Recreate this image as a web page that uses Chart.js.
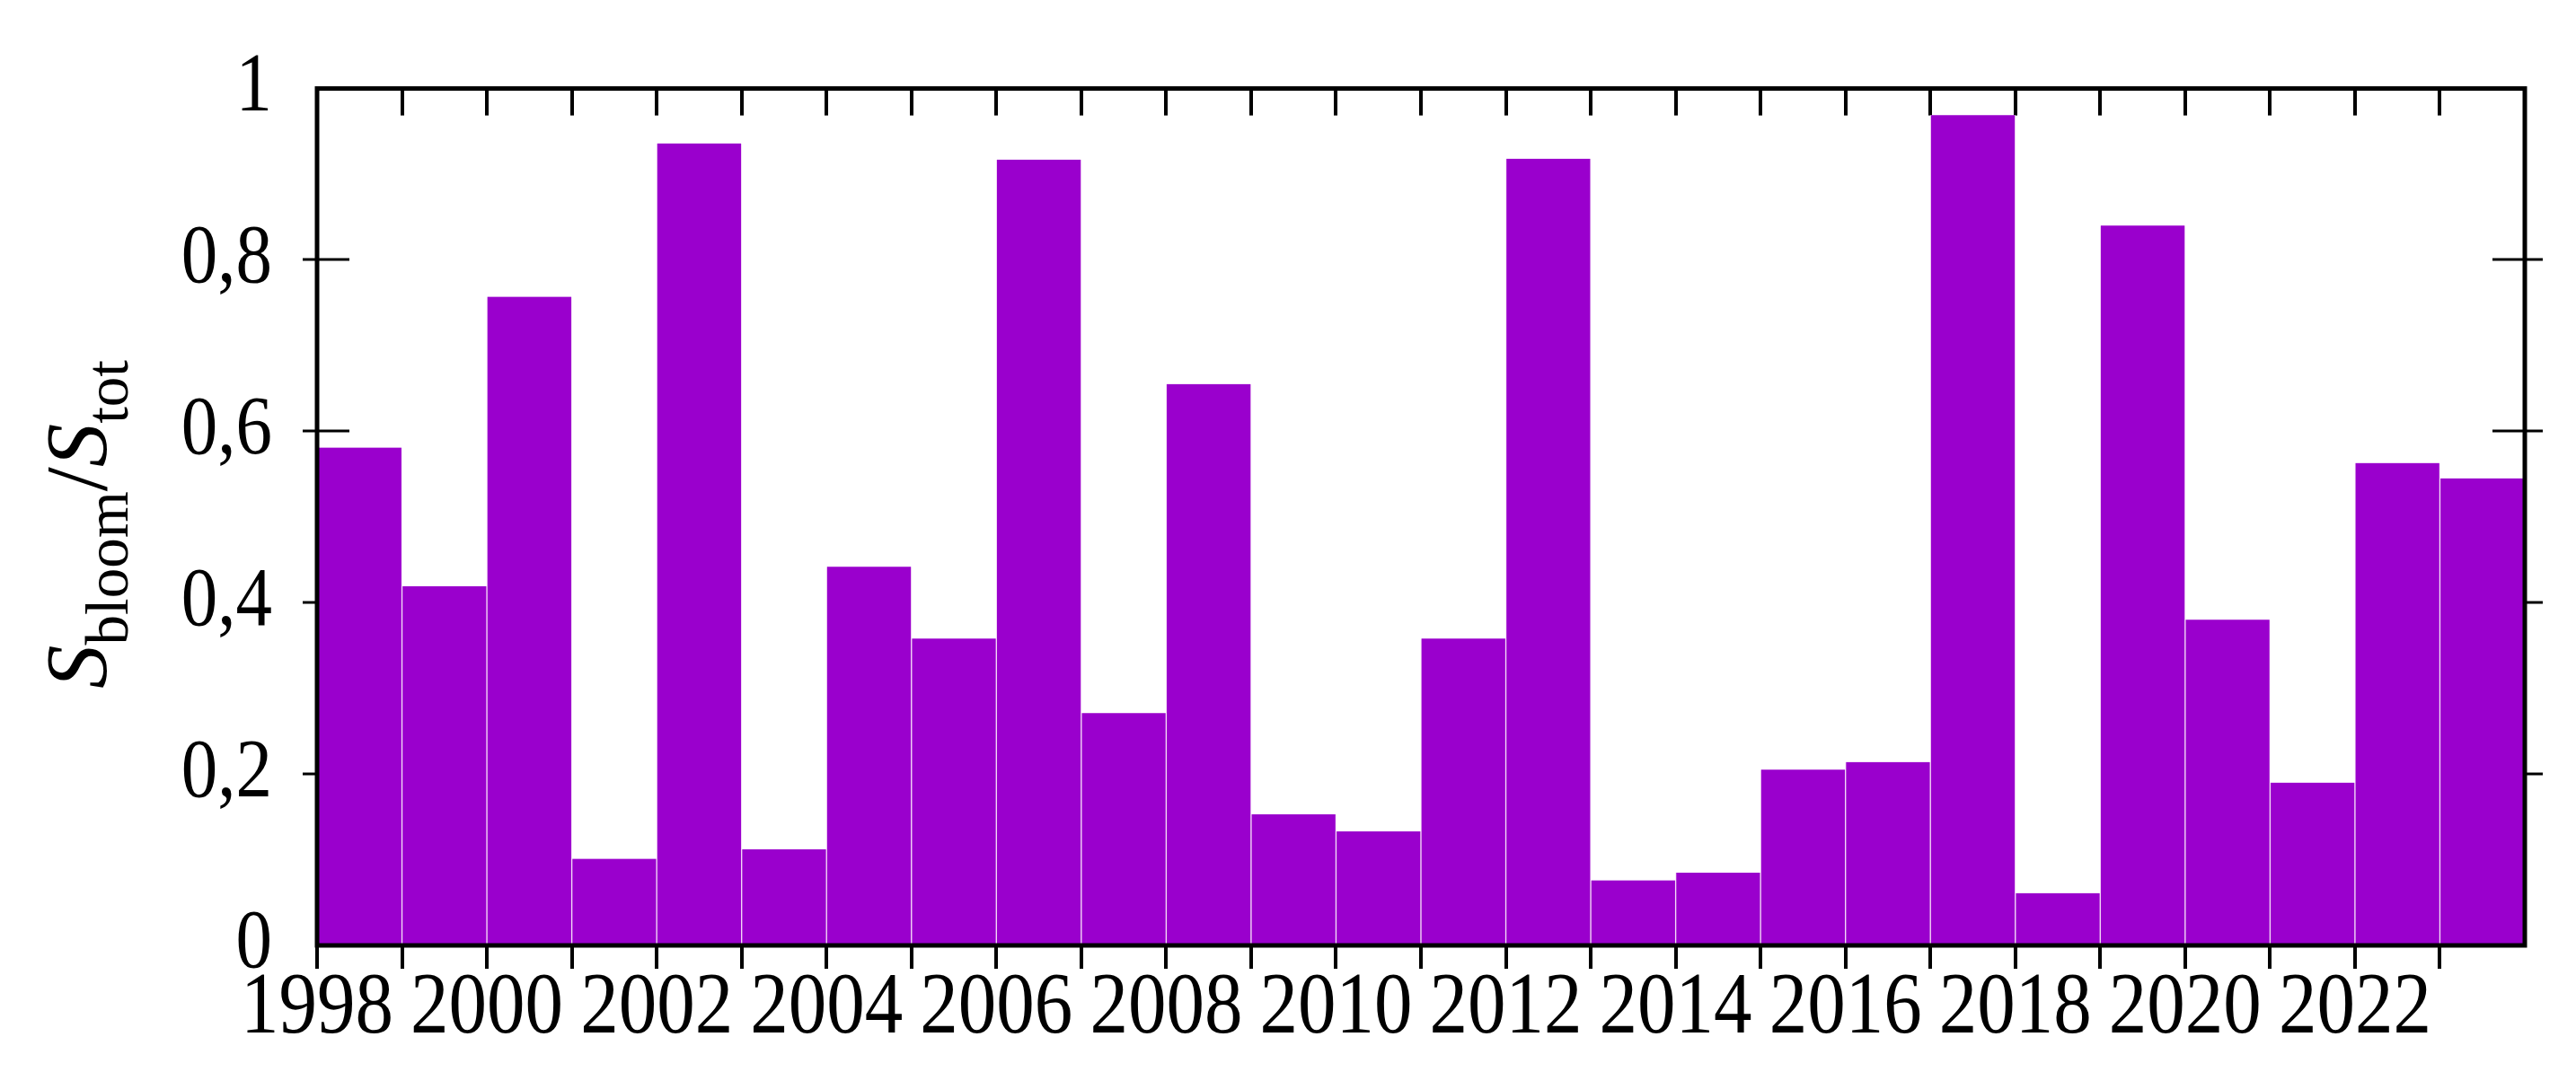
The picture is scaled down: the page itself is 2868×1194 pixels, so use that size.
<!DOCTYPE html>
<html>
<head>
<meta charset="utf-8">
<script src="https://cdn.jsdelivr.net/npm/chart.js@4.4.1/dist/chart.umd.min.js"></script>
<style>
  html, body { margin: 0; padding: 0; background: #ffffff; }
  #wrap { width: 2868px; height: 1194px; }
  canvas { display: block; }
</style>
</head>
<body>
<div id="wrap"><canvas id="c" width="2868" height="1194"></canvas></div>
<script>
// ---- data ----
const years = [1998, 1999, 2000, 2001, 2002, 2003, 2004, 2005, 2006, 2007, 2008, 2009, 2010,
               2011, 2012, 2013, 2014, 2015, 2016, 2017, 2018, 2019, 2020, 2021, 2022, 2023];
const bloomRatio = [0.581, 0.419, 0.757, 0.101, 0.936, 0.112, 0.442, 0.358, 0.917, 0.271, 0.655, 0.153, 0.133,
                    0.358, 0.918, 0.076, 0.085, 0.205, 0.214, 0.969, 0.061, 0.840, 0.380, 0.190, 0.563, 0.545];
const xLabelYears = [1998, 2000, 2002, 2004, 2006, 2008, 2010, 2012, 2014, 2016, 2018, 2020, 2022];
const yTickValues = [0, 0.2, 0.4, 0.6, 0.8, 1];
const yTickLabels = ['0', '0,2', '0,4', '0,6', '0,8', '1'];
const xMin = 1998, xMax = 2024;

const barColor = '#9a00cd';
const SERIF = '"Liberation Serif", "Times New Roman", serif';
const LABEL_STRETCH = 1.15; // tick labels in the reference are slightly tall

// stretch tick label glyphs vertically around their anchor
const labelStretchPlugin = {
  id: 'labelStretch',
  afterLayout(chart) {
    ['x', 'y'].forEach(id => {
      const s = chart.scales[id];
      if (!s || s._stretched) return;
      const orig = s.drawLabels.bind(s);
      s.drawLabels = function (area) {
        const c = this.ctx;
        const fill = c.fillText;
        c.fillText = function (t, x, y, mw) {
          this.save();
          this.scale(1, LABEL_STRETCH);
          if (mw === undefined) fill.call(this, t, x, y / LABEL_STRETCH);
          else fill.call(this, t, x, y / LABEL_STRETCH, mw);
          this.restore();
        };
        try { orig(area); } finally { c.fillText = fill; }
      };
      s._stretched = true;
    });
  }
};

// frame + tick marks (using the chart's own scales)
const framePlugin = {
  id: 'frameTicks',
  beforeDatasetsDraw(chart) {
    const { ctx, chartArea: a, scales: { x, y } } = chart;
    ctx.save();
    ctx.strokeStyle = '#000';
    ctx.lineWidth = 3;
    yTickValues.forEach(v => {
      if (v === 0 || v === 1) return;
      const py = Math.round(y.getPixelForValue(v));
      ctx.beginPath(); ctx.moveTo(a.left, py); ctx.lineTo(a.left + 36, py); ctx.stroke();
      ctx.beginPath(); ctx.moveTo(a.right, py); ctx.lineTo(a.right - 36, py); ctx.stroke();
    });
    ctx.lineWidth = 4;
    x.ticks.forEach(t => {
      if (t.value === xMin || t.value === xMax) return;
      const px = Math.round(x.getPixelForValue(t.value));
      ctx.beginPath(); ctx.moveTo(px, a.top); ctx.lineTo(px, a.top + 30); ctx.stroke();
    });
    ctx.restore();
  },
  afterDatasetsDraw(chart) {
    const { ctx, chartArea: a, scales: { x, y } } = chart;
    ctx.save();
    ctx.strokeStyle = '#000';
    ctx.lineWidth = 3;
    yTickValues.forEach(v => {
      if (v === 0 || v === 1) return;
      const py = Math.round(y.getPixelForValue(v));
      ctx.beginPath(); ctx.moveTo(a.left, py); ctx.lineTo(a.left - 16, py); ctx.stroke();
      ctx.beginPath(); ctx.moveTo(a.right, py); ctx.lineTo(a.right + 20, py); ctx.stroke();
    });
    ctx.lineWidth = 4;
    x.ticks.forEach(t => {
      if (t.value === xMax) return;
      const px = Math.round(x.getPixelForValue(t.value));
      ctx.beginPath(); ctx.moveTo(px, a.bottom); ctx.lineTo(px, a.bottom + 26); ctx.stroke();
    });
    ctx.lineWidth = 5;
    ctx.strokeRect(a.left, a.top, a.right - a.left, a.bottom - a.top);
    ctx.restore();
  }
};

// y-axis title with subscripts: S_bloom / S_tot
const yTitlePlugin = {
  id: 'yTitle',
  afterDraw(chart) {
    const { ctx } = chart;
    const parts = [
      { t: 'S', f: 'italic 97px ' + SERIF, dy: 0 },
      { t: 'bloom', f: '67px ' + SERIF, dy: 24 },
      { t: '/', f: '97px ' + SERIF, dy: 0 },
      { t: 'S', f: 'italic 97px ' + SERIF, dy: 0 },
      { t: 'tot', f: '67px ' + SERIF, dy: 24 }
    ];
    ctx.save();
    ctx.fillStyle = '#000';
    ctx.textBaseline = 'alphabetic';
    let total = 0;
    parts.forEach(p => { ctx.font = p.f; p.w = ctx.measureText(p.t).width; total += p.w; });
    ctx.translate(118, 584);
    ctx.rotate(-Math.PI / 2);
    let cx = -total / 2;
    parts.forEach(p => { ctx.font = p.f; ctx.fillText(p.t, cx, p.dy); cx += p.w; });
    ctx.restore();
  }
};

const ctx = document.getElementById('c').getContext('2d');
new Chart(ctx, {
  type: 'bar',
  data: {
    datasets: [{
      data: years.map((yr, i) => ({ x: yr + 0.5, y: bloomRatio[i] })),
      backgroundColor: barColor,
      borderColor: '#f4dcf7',
      borderWidth: { left: 1, right: 1, top: 0, bottom: 0 },
      borderSkipped: false,
      barPercentage: 1.0,
      categoryPercentage: 1.0
    }]
  },
  options: {
    responsive: false,
    devicePixelRatio: 1,
    animation: false,
    layout: { padding: { left: 0, top: 73, right: 57, bottom: 0 } },
    plugins: { legend: { display: false }, tooltip: { enabled: false }, title: { display: false } },
    scales: {
      x: {
        type: 'linear',
        min: xMin, max: xMax,
        offset: false,
        grid: { display: false, drawTicks: false, offset: false },
        border: { display: false },
        afterBuildTicks(scale) {
          const t = [];
          for (let v = xMin; v <= xMax; v++) t.push({ value: v });
          scale.ticks = t;
        },
        ticks: {
          autoSkip: false, maxRotation: 0, minRotation: 0,
          padding: 20,
          color: '#000',
          font: { family: SERIF, size: 85 },
          callback: v => xLabelYears.includes(v) ? String(v) : ''
        },
        afterFit(scale) { scale.height = 141; }
      },
      y: {
        min: 0, max: 1,
        grid: { display: false, drawTicks: false },
        border: { display: false },
        afterBuildTicks(scale) { scale.ticks = yTickValues.map(v => ({ value: v })); },
        ticks: {
          padding: 50,
          color: '#000',
          font: { family: SERIF, size: 81 },
          callback: v => { const i = yTickValues.findIndex(t => Math.abs(t - v) < 1e-9); return i >= 0 ? yTickLabels[i] : ''; }
        },
        afterFit(scale) { scale.width = 353; }
      }
    }
  },
  plugins: [labelStretchPlugin, framePlugin, yTitlePlugin]
});
</script>
</body>
</html>
